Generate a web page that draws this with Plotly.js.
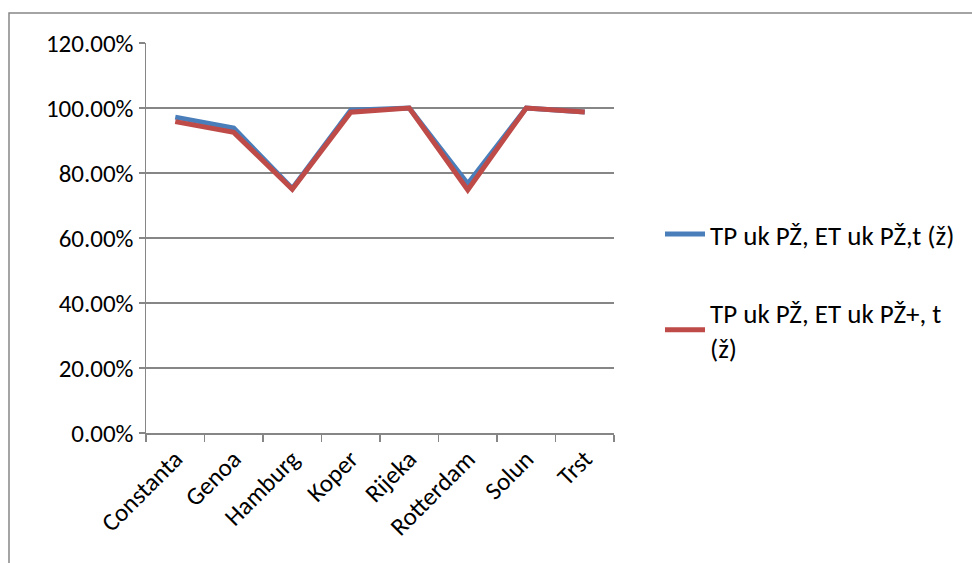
<!DOCTYPE html>
<html><head><meta charset="utf-8">
<script src="https://cdn.plot.ly/plotly-3.0.1.min.js"></script>
<style>html,body{margin:0;padding:0;background:#fff}#c{width:972px;height:563px}</style>
</head><body><div id="c"></div>
<script>
const categories = ["Constanta","Genoa","Hamburg","Koper","Rijeka","Rotterdam","Solun","Trst"];
const seriesBlue = [0.972, 0.938, 0.752, 0.993, 1.0, 0.767, 1.0, 0.988];
const seriesRed  = [0.958, 0.925, 0.750, 0.987, 1.0, 0.748, 1.0, 0.988];
const nameBlue = "TP uk PŽ, ET uk PŽ,t (ž)";
const nameRed = "TP uk PŽ, ET uk PŽ+, t<br>(ž)";
const yTicks = [0, 0.2, 0.4, 0.6, 0.8, 1.0, 1.2];

const axisFont = {family: "Carlito, Lato, 'Open Sans', sans-serif", size: 25, color: "#000"};
const legendFont = {family: "Carlito, Lato, 'Open Sans', sans-serif", size: 27, color: "#000"};
const grey = "#868686";
const traces = [
  {x: categories, y: seriesBlue, name: nameBlue, legendgroup: "a", type: "scatter", mode: "lines",
   line: {color: "#4A7EBB", width: 5}},
  {x: categories, y: seriesRed, name: nameRed, legendgroup: "b", type: "scatter", mode: "lines",
   line: {color: "#BE4B48", width: 5}}
];
const layout = {
  width: 972, height: 563,
  margin: {l: 146, r: 358, t: 43, b: 130},
  paper_bgcolor: "#fff", plot_bgcolor: "#fff",
  font: axisFont,
  showlegend: true,
  legend: {x: (660 - 146) / 468, y: (433 - 210) / 390, xanchor: "left", yanchor: "top",
           font: legendFont, tracegroupgap: 40, itemwidth: 40, bgcolor: "rgba(0,0,0,0)"},
  xaxis: {type: "category", range: [-0.5, 7.5], showgrid: false, showline: true,
          linecolor: grey, linewidth: 1.5, ticks: "outside", tickson: "boundaries",
          ticklen: 7, tickcolor: grey, tickwidth: 1.5, tickangle: -45, tickfont: axisFont},
  yaxis: {range: [0, 1.2], tickvals: yTicks, tickformat: ".2%", showline: true,
          linecolor: grey, linewidth: 1.5, gridcolor: grey, gridwidth: 1.5,
          ticks: "outside", ticklen: 6, tickcolor: grey, tickwidth: 1.5,
          zeroline: false, tickfont: axisFont, automargin: false},
  shapes: [{type: "rect", xref: "paper", yref: "paper",
            x0: (9 - 146) / 468, x1: (990 - 146) / 468,
            y0: (433 - 590) / 390, y1: (433 - 13) / 390,
            line: {color: grey, width: 1.5}, fillcolor: "rgba(0,0,0,0)", layer: "below"}]
};
Plotly.newPlot("c", traces, layout, {displayModeBar: false, staticPlot: true});
</script></body></html>
